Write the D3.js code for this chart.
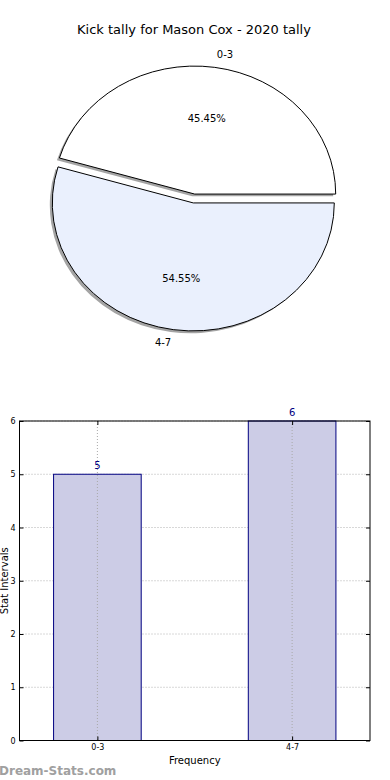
<!DOCTYPE html>
<html>
<head>
<meta charset="utf-8">
<script src="https://cdn.jsdelivr.net/npm/d3@7"></script>
<style>
  body { margin: 0; background: #fff; }
  svg { display: block; font-family: "DejaVu Sans", sans-serif; }
</style>
</head>
<body>
<div id="chart"></div>
<script>
// chart data
var categories = ["0-3", "4-7"];
var tally = [5, 6];
var pieColors = ["#ffffff", "#eaf0fd"];
var yTicks = [0, 1, 2, 3, 4, 5, 6];
var title = "Kick tally for Mason Cox - 2020 tally";

var W = 390, H = 780;

var svg = d3.select("#chart")
  .append("svg")
    .attr("width", W)
    .attr("height", H);

// ---- pie (matplotlib style, elliptical because axes are not square)
var cx = 194, cy = 198.5, rx = 141, ry = 128, explode = 0.035;

svg.append("text")
  .attr("x", 194)
  .attr("y", 34)
  .attr("text-anchor", "middle")
  .attr("font-size", 13)
  .attr("fill", "#000")
  .text(title);

// angles go counter-clockwise from 3 o'clock like matplotlib
var pie = d3.pie()
  .sort(null)
  .startAngle(Math.PI / 2)
  .endAngle(Math.PI / 2 - 2 * Math.PI);
var arcs = pie(tally);
var total = d3.sum(tally);

var arc = d3.arc().innerRadius(0).outerRadius(ry);

function midOf(d) {
  // d3 angle (clockwise from 12) -> screen direction
  var a = (d.startAngle + d.endAngle) / 2;
  return { dx: Math.sin(a), dy: -Math.cos(a) };
}
function shift(d) {
  var m = midOf(d);
  return "translate(" + (cx + m.dx * explode * rx) + "," + (cy + m.dy * explode * ry) + ")";
}

// shadows first
svg.append("g").selectAll("path")
  .data(arcs)
  .enter()
  .append("path")
    .attr("d", arc)
    .attr("transform", function(d) { return shift(d) + " translate(-2.5,2.3) scale(" + (rx / ry) + ",1)"; })
    .attr("fill", "#a4a4a4");

// slices on top of all shadows
var tops = svg.append("g").selectAll("g.top")
  .data(arcs)
  .enter()
  .append("g")
    .attr("class", "top")
    .attr("transform", shift);

tops.append("path")
  .attr("d", arc)
  .attr("transform", "scale(" + (rx / ry) + ",1)")
  .attr("fill", function(d, i) { return pieColors[i]; })
  .attr("stroke", "#000")
  .attr("stroke-width", 1)
  .attr("vector-effect", "non-scaling-stroke");

tops.append("text")
  .attr("x", function(d) { return midOf(d).dx * 1.1 * rx; })
  .attr("y", function(d) { return midOf(d).dy * 1.1 * ry; })
  .attr("dy", "0.35em")
  .attr("text-anchor", function(d) { return midOf(d).dx > 0 ? "start" : "end"; })
  .attr("font-size", 10)
  .text(function(d, i) { return categories[i]; });

tops.append("text")
  .attr("x", function(d) { return midOf(d).dx * 0.6 * rx; })
  .attr("y", function(d) { return midOf(d).dy * 0.6 * ry; })
  .attr("dy", "0.35em")
  .attr("text-anchor", "middle")
  .attr("font-size", 10)
  .text(function(d) { return (d.value / total * 100).toFixed(2) + "%"; });

// ---- bar chart
var plotL = 19.5, plotR = 370, plotT = 421, plotB = 740.5;

var x = d3.scalePoint()
  .domain(categories)
  .range([plotL, plotR])
  .padding(0.4);
var barW = x.step() * 0.45;

var y = d3.scaleLinear()
  .domain([0, 6])
  .range([plotB, plotT]);

var g = svg.append("g");

// grid
g.selectAll("line.hgrid")
  .data(yTicks)
  .enter()
  .append("line")
    .attr("x1", plotL).attr("x2", plotR)
    .attr("y1", function(d) { return y(d); })
    .attr("y2", function(d) { return y(d); })
    .attr("stroke", "#b0b0b0")
    .attr("stroke-dasharray", "1,2");

g.selectAll("rect.bar")
  .data(tally)
  .enter()
  .append("rect")
    .attr("class", "bar")
    .attr("x", function(d, i) { return x(categories[i]) - barW / 2; })
    .attr("y", function(d) { return y(d); })
    .attr("width", barW)
    .attr("height", function(d) { return y(0) - y(d); })
    .attr("fill", "#ccccE6")
    .attr("stroke", "#000080")
    .attr("stroke-width", 1);

g.selectAll("line.vgrid")
  .data(categories)
  .enter()
  .append("line")
    .attr("x1", function(d) { return x(d); })
    .attr("x2", function(d) { return x(d); })
    .attr("y1", plotT).attr("y2", plotB)
    .attr("stroke", "#a8a8a8")
    .attr("stroke-dasharray", "1,2");

g.selectAll("text.val")
  .data(tally)
  .enter()
  .append("text")
    .attr("x", function(d, i) { return x(categories[i]); })
    .attr("y", function(d) { return y(d) - 5; })
    .attr("text-anchor", "middle")
    .attr("font-size", 10)
    .attr("fill", "#000080")
    .text(function(d) { return d; });

// axes with inward ticks
var yAxis = g.append("g")
  .attr("transform", "translate(" + plotL + ",0)")
  .call(d3.axisLeft(y).tickValues(yTicks).tickFormat(d3.format("d"))
    .tickSizeInner(-4).tickSizeOuter(0).tickPadding(4));
var yAxisR = g.append("g")
  .attr("transform", "translate(" + plotR + ",0)")
  .call(d3.axisRight(y).tickValues(yTicks).tickSizeInner(-4).tickSizeOuter(0).tickFormat(""));
var xAxis = g.append("g")
  .attr("transform", "translate(0," + plotB + ")")
  .call(d3.axisBottom(x).tickSizeInner(-4).tickSizeOuter(0).tickPadding(4));
var xAxisT = g.append("g")
  .attr("transform", "translate(0," + plotT + ")")
  .call(d3.axisTop(x).tickSizeInner(-4).tickSizeOuter(0).tickFormat(""));

[yAxis, yAxisR, xAxis, xAxisT].forEach(function(a) {
  a.select(".domain").remove();
  a.selectAll("text").attr("font-size", 8).attr("font-family", "DejaVu Sans");
});

g.append("rect")
  .attr("x", plotL).attr("y", plotT)
  .attr("width", plotR - plotL).attr("height", plotB - plotT)
  .attr("fill", "none")
  .attr("stroke", "#000")
  .attr("stroke-width", 1);

g.append("text")
  .attr("x", (plotL + plotR) / 2)
  .attr("y", 764)
  .attr("text-anchor", "middle")
  .attr("font-size", 10)
  .text("Frequency");

g.append("text")
  .attr("transform", "translate(8," + ((plotT + plotB) / 2) + ") rotate(-90)")
  .attr("text-anchor", "middle")
  .attr("font-size", 10)
  .text("Stat Intervals");

svg.append("text")
  .attr("x", -1)
  .attr("y", 775)
  .attr("font-size", 12)
  .attr("font-weight", "bold")
  .attr("fill", "#a0a0a0")
  .text("Dream-Stats.com");
</script>
</body>
</html>
